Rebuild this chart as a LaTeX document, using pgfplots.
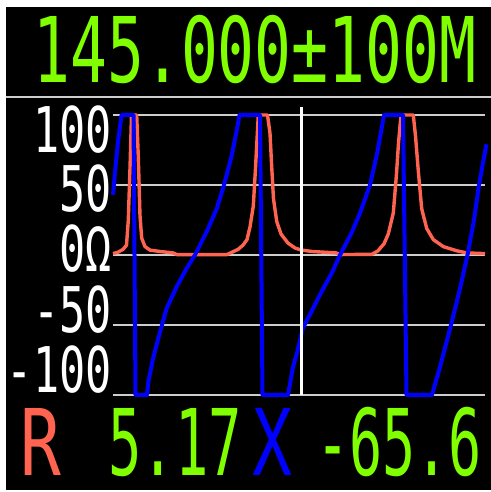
\documentclass[border=0pt]{standalone}
\usepackage{graphicx}
\usepackage{pgfplots}
\pgfplotsset{compat=1.18}
\usepackage{fontspec}
\newfontfamily\lcd[FakeStretch=0.67]{DejaVu Sans Mono}
\definecolor{lcdgreen}{RGB}{128,255,0}
\definecolor{rred}{RGB}{255,100,80}
\definecolor{gridgray}{RGB}{205,205,205}
\begin{document}
\begin{tikzpicture}
\useasboundingbox (0,0) rectangle (245.5pt,246pt);
\fill[white] (0,0) rectangle (245.5pt,246pt);
\fill[black] (3pt,1pt) rectangle (245.5pt,242.5pt);
\draw[gridgray, line width=1.2pt] (3pt,197.5pt) -- (245.5pt,197.5pt);
\node[anchor=base west, inner sep=0, text=lcdgreen, font=\fontsize{45.3pt}{45.3pt}\lcd] at (16.5pt,204.5pt) {\scalebox{1.01}[1]{145.000±100M}};
% y labels
\begin{scope}[every node/.style={anchor=base east, inner sep=0, text=white, font=\fontsize{31.5pt}{31.5pt}\lcd}]
\node at (56pt,169.5pt) {\scalebox{1.03}[1]{100}};
\node at (56pt,140pt) {\scalebox{1.03}[1]{50}};
\node at (56pt,110pt) {\scalebox{1.03}[1]{0Ω}};
\node at (56pt,79.5pt) {\scalebox{1.03}[1]{-50}};
\node at (56pt,49.5pt) {\scalebox{1.03}[1]{-100}};
\end{scope}
% bottom readout
\begin{scope}[every node/.style={anchor=base west, inner sep=0, font=\fontsize{46pt}{46pt}\lcd}]
\node[text=rred] at (10pt,8.5pt) {\scalebox{1.1}[1]{R}};
\node[text=lcdgreen] at (54pt,8.5pt) {\scalebox{0.90}[1]{5.17}};
\node[text=blue] at (126pt,8.5pt) {\scalebox{1.08}[1]{X}};
\node[text=lcdgreen] at (158pt,8.5pt) {\scalebox{0.893}[1]{-65.6}};
\end{scope}
\begin{axis}[
  at={(56.5pt,48.5pt)}, anchor=south west,
  width=186pt, height=140pt, scale only axis,
  xmin=113, xmax=485, ymin=-100, ymax=100,
  clip=false,
  axis line style={draw=none},
  tick style={draw=none},
  xtick=\empty,
  ytick={-100,-50,0,50,100},
  yticklabels={},
  ymajorgrids,
  grid style={gridgray, line width=1pt},
]
\addplot[rred, line width=1.7pt, line join=round] coordinates {
(113,1) (118,2) (123,4) (126.5,7) (128.3,25) (130,62) (131.5,100) (136.7,100) (138.3,70) (140,28) (141.7,12) (145,6) (150,3.5) (160,2.5) (173,1.5) (177,0.3) (227,0.3) (232,2) (238,4) (243,7) (247,11) (250,20) (253.3,35) (255.5,62) (258.3,100) (267.5,100) (270,87) (271.7,63) (273.5,40) (276.7,24) (281,15) (288,8.5) (295,5) (301,3.6) (312,2.5) (336,1.5) (340,0.3) (372,0.5) (378,3) (384,8) (388.3,15) (393.3,30) (396.5,58) (398.5,80) (401,100) (413.3,100) (415.5,85) (418.3,60) (421.7,33) (426.7,19) (433.3,11) (443.3,6) (456.7,3) (466.7,1.5) (485,1)
};
\addplot[blue, line width=2pt, line join=round] coordinates {
(113,43) (115,59) (118,81) (121.5,100) (133.5,100) (135.5,-100) (147,-100) (148.5,-90) (153,-74) (160,-55) (166.7,-38) (176.7,-22.6) (186.7,-9.5) (195,0) (206.7,16.7) (216.7,33) (224,50) (231.7,71) (237,90) (239.5,100) (260,100) (262.5,-100) (288,-100) (293,-80) (297,-70) (303,-52) (311.7,-40) (321.7,-26) (331.7,-13) (340,0) (351.7,16) (360,30) (370,50) (377,72) (384,100) (403,100) (406.5,-100) (432,-100) (440,-80) (451,-50) (460,-24) (467.5,0) (474,25) (479,50) (483,66) (486.5,79)
};
\addplot[white, line width=1.5pt] coordinates {(301,-100) (301,106)};
\end{axis}
\end{tikzpicture}
\end{document}
